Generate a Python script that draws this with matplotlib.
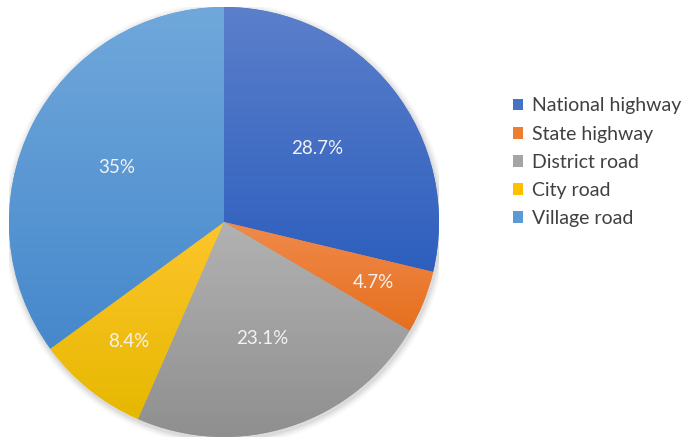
import numpy as np
import matplotlib.pyplot as plt
import matplotlib.colors as mcolors
from matplotlib.patches import Patch, Circle

labels = ['National highway', 'State highway', 'District road', 'City road', 'Village road']
shares = [28.7, 4.7, 23.1, 8.4, 35.0]
pct_text = ['28.7%', '4.7%', '23.1%', '8.4%', '35%']

base_colors = ['#4472C4', '#ED7D31', '#A5A5A5', '#FFC000', '#5B9BD5']
top_colors = ['#5B7FCB', '#F08A4B', '#B2B2B2', '#FDC52C', '#70A8DB']
bottom_colors = ['#2E5FBE', '#E66F1E', '#8E8E8E', '#E6B800', '#4688CC']
label_dist = [0.555, 0.75, 0.57, 0.71, 0.56]

plt.rcParams['font.family'] = ['Lato', 'DejaVu Sans']

fig = plt.figure(figsize=(6.85, 4.48), dpi=100)
ax = fig.add_axes([9 / 685, 11 / 448, 430 / 685, 430 / 448])

# soft shadow
for i, a in enumerate([0.05, 0.04, 0.03, 0.02]):
    ax.add_patch(Circle((0.005, -0.01), 1.0 + 0.008 * (i + 1), color='black', alpha=a, lw=0, zorder=0))

wedges, _ = ax.pie(shares, startangle=90, counterclock=False, radius=1.0,
                   colors=base_colors, wedgeprops=dict(linewidth=0))

for w, ctop, cbot in zip(wedges, top_colors, bottom_colors):
    path = w.get_path()
    verts = w.get_transform().transform(path.vertices)
    verts = ax.transData.inverted().transform(verts)
    x0, x1 = verts[:, 0].min(), verts[:, 0].max()
    y0, y1 = verts[:, 1].min(), verts[:, 1].max()
    cmap = mcolors.LinearSegmentedColormap.from_list('g', [cbot, ctop])
    grad = np.linspace(0, 1, 256).reshape(-1, 1)
    im = ax.imshow(grad, cmap=cmap, extent=[x0, x1, y0, y1], origin='lower',
                   aspect='auto', zorder=2, interpolation='bicubic')
    im.set_clip_path(w)

for w, txt, d in zip(wedges, pct_text, label_dist):
    ang = np.deg2rad((w.theta1 + w.theta2) / 2)
    ax.text(d * np.cos(ang), d * np.sin(ang), txt, ha='center', va='center',
            color='#F2F2F2', fontsize=13.5, zorder=5)

ax.set_xlim(-1.0, 1.0)
ax.set_ylim(-1.0, 1.0)
ax.set_aspect('equal')
ax.axis('off')

handles = [Patch(facecolor=c, edgecolor='none') for c in base_colors]
fig.legend(handles, labels, loc='upper left', bbox_to_anchor=(495 / 685, 1 - 80 / 448),
           frameon=False, fontsize=14, handlelength=0.55, handleheight=0.55,
           handletextpad=0.45, labelspacing=0.57, labelcolor='#404040')

fig.savefig('out.png', dpi=100)
